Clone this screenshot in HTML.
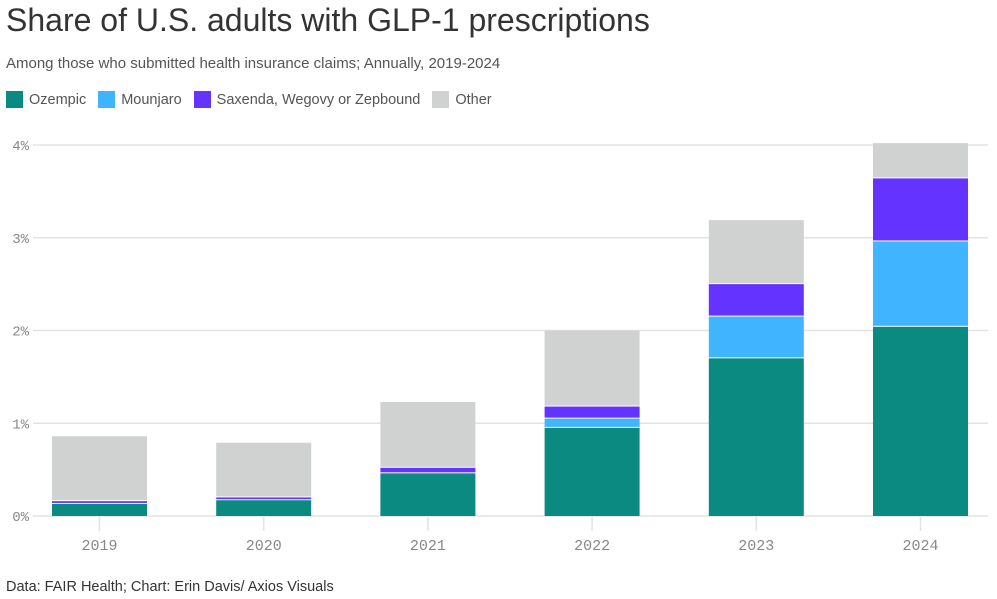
<!DOCTYPE html>
<html><head><meta charset="utf-8"><style>
body{margin:0;width:997px;height:599px;background:#fff;font-family:"Liberation Sans",sans-serif;overflow:hidden;position:relative}
#title{position:absolute;left:6px;top:2px;font-size:32px;color:#333;letter-spacing:0}
#sub{position:absolute;left:6px;top:55px;font-size:15px;color:#555}
#legend{position:absolute;left:6px;top:91px;font-size:14.5px;color:#555;display:flex;align-items:center}
.sw{width:17px;height:17px;display:inline-block;margin-right:6px}
.li{display:flex;align-items:center;margin-right:12px}
#src{position:absolute;left:6px;top:579px;font-size:14.5px;color:#333}
svg{position:absolute;left:0;top:0}
</style></head><body>
<div id="title">Share of U.S. adults with GLP-1 prescriptions</div>
<div id="sub">Among those who submitted health insurance claims; Annually, 2019-2024</div>
<div id="legend">
<span class="li"><span class="sw" style="background:#0a8a80"></span>Ozempic</span>
<span class="li"><span class="sw" style="background:#40b4ff"></span>Mounjaro</span>
<span class="li"><span class="sw" style="background:#6533ff"></span>Saxenda, Wegovy or Zepbound</span>
<span class="li"><span class="sw" style="background:#d0d1d1"></span>Other</span>
</div>
<svg id="chart" width="997" height="599"></svg>
<div id="src">Data: FAIR Health; Chart: Erin Davis/ Axios Visuals</div>
<script>
const years=["2019","2020","2021","2022","2023","2024"];
const ozempic=[0.13,0.17,0.46,0.95,1.70,2.04];
const mounjaro=[0,0,0,0.10,0.45,0.92];
const saxenda=[0.03,0.03,0.06,0.13,0.35,0.68];
const other=[0.70,0.59,0.71,0.82,0.69,0.38];
const yTicks=[0,1,2,3,4];
const colors=["#0a8a80","#40b4ff","#6533ff","#d0d1d1"];
const names=["ozempic","mounjaro","saxenda","other"];
const series=[ozempic,mounjaro,saxenda,other];
const NS="http://www.w3.org/2000/svg";
const svg=document.getElementById('chart');
const y=v=>516-v*92.75;
const xc=i=>99.5+i*164.2;
const bw=95;
function mk(t,a){const e=document.createElementNS(NS,t);for(const k in a)e.setAttribute(k,a[k]);svg.appendChild(e);return e;}
yTicks.forEach(t=>{
  const l=mk('line',{x1:33,x2:988,y1:y(t),y2:y(t),stroke:'#e3e3e3','stroke-width':1.5});
  
  
  const tx=mk('text',{x:29,y:y(t)+5,'text-anchor':'end','font-size':14,fill:'#888','font-family':'Liberation Mono,monospace'});
  tx.textContent=t+'%';
  
  
});
years.forEach((yr,i)=>{
  const tk=mk('line',{x1:xc(i),x2:xc(i),y1:517,y2:531,stroke:'#e3e3e3','stroke-width':1.5});
  
  
  let base=0;
  series.forEach((s,k)=>{
    const v=s[i];
    if(v>0){
      const top=y(base+v),bot=y(base);
      const r=mk('rect',{x:xc(i)-bw/2,y:top,width:bw,height:Math.max(0,bot-top-(base>0?1:0)),fill:colors[k]});
      
      
    }
    base+=v;
  });
  const tx=mk('text',{x:xc(i),y:550,'text-anchor':'middle','font-size':15,fill:'#888','font-family':'Liberation Mono,monospace'});
  tx.textContent=yr;
  
  
});
</script>
</body></html>
